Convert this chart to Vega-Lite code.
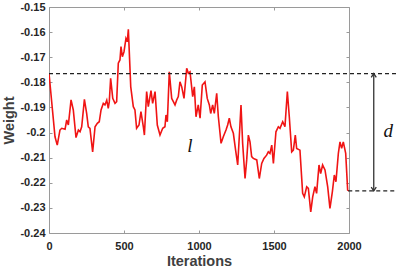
{
  "$schema": "https://vega.github.io/schema/vega-lite/v6.json",
  "autosize": "none",
  "width": 300,
  "height": 226,
  "padding": {"left": 49, "top": 7, "right": 47, "bottom": 37},
  "background": "white",
  "config": {
    "view": {"stroke": null},
    "font": "Liberation Sans",
    "axis": {
      "grid": false,
      "domainColor": "#9a9a9a",
      "tickColor": "#9a9a9a",
      "labelFont": "Liberation Sans",
      "labelFontWeight": "bold",
      "labelFontSize": 11,
      "labelColor": "#262626",
      "titleFont": "Liberation Sans",
      "titleFontWeight": "bold",
      "titleFontSize": 14.5,
      "titleColor": "#404040"
    }
  },
  "datasets": {
    "w": [
      {"it": 0, "w": -0.1764}, {"it": 40, "w": -0.2017}, {"it": 55, "w": -0.205}, {"it": 73, "w": -0.199},
      {"it": 85, "w": -0.1983}, {"it": 107, "w": -0.1987}, {"it": 118, "w": -0.195}, {"it": 129, "w": -0.197},
      {"it": 147, "w": -0.187}, {"it": 162, "w": -0.191}, {"it": 180, "w": -0.202}, {"it": 196, "w": -0.199},
      {"it": 207, "w": -0.1997}, {"it": 218, "w": -0.1977}, {"it": 236, "w": -0.1868}, {"it": 251, "w": -0.1924},
      {"it": 262, "w": -0.1977}, {"it": 273, "w": -0.1983}, {"it": 291, "w": -0.2077}, {"it": 307, "w": -0.1977},
      {"it": 322, "w": -0.1963}, {"it": 335, "w": -0.1957}, {"it": 347, "w": -0.191}, {"it": 362, "w": -0.1884},
      {"it": 373, "w": -0.189}, {"it": 385, "w": -0.1871}, {"it": 395, "w": -0.1904}, {"it": 402, "w": -0.1877},
      {"it": 411, "w": -0.1784}, {"it": 425, "w": -0.1864}, {"it": 440, "w": -0.1884}, {"it": 451, "w": -0.1877},
      {"it": 462, "w": -0.1724}, {"it": 473, "w": -0.1711}, {"it": 480, "w": -0.1658}, {"it": 489, "w": -0.1698},
      {"it": 500, "w": -0.1678}, {"it": 513, "w": -0.1625}, {"it": 522, "w": -0.1638}, {"it": 529, "w": -0.1589},
      {"it": 545, "w": -0.1818}, {"it": 562, "w": -0.1897}, {"it": 573, "w": -0.191}, {"it": 584, "w": -0.1983},
      {"it": 600, "w": -0.197}, {"it": 613, "w": -0.1917}, {"it": 629, "w": -0.1977}, {"it": 636, "w": -0.201},
      {"it": 651, "w": -0.1837}, {"it": 662, "w": -0.1897}, {"it": 680, "w": -0.1833}, {"it": 691, "w": -0.1884},
      {"it": 707, "w": -0.1837}, {"it": 722, "w": -0.197}, {"it": 740, "w": -0.201}, {"it": 758, "w": -0.1983},
      {"it": 773, "w": -0.1977}, {"it": 780, "w": -0.193}, {"it": 789, "w": -0.1957}, {"it": 802, "w": -0.1758},
      {"it": 818, "w": -0.1864}, {"it": 829, "w": -0.1877}, {"it": 840, "w": -0.189}, {"it": 851, "w": -0.1871},
      {"it": 862, "w": -0.1857}, {"it": 873, "w": -0.1798}, {"it": 885, "w": -0.1818}, {"it": 900, "w": -0.1864},
      {"it": 918, "w": -0.1744}, {"it": 929, "w": -0.1764}, {"it": 940, "w": -0.1758}, {"it": 958, "w": -0.1857},
      {"it": 969, "w": -0.1818}, {"it": 980, "w": -0.1937}, {"it": 995, "w": -0.189}, {"it": 1007, "w": -0.1943},
      {"it": 1022, "w": -0.1811}, {"it": 1040, "w": -0.1798}, {"it": 1055, "w": -0.1864}, {"it": 1069, "w": -0.189},
      {"it": 1078, "w": -0.1924}, {"it": 1091, "w": -0.189}, {"it": 1102, "w": -0.1924}, {"it": 1118, "w": -0.1844},
      {"it": 1129, "w": -0.1937}, {"it": 1147, "w": -0.2043}, {"it": 1162, "w": -0.2017}, {"it": 1180, "w": -0.199},
      {"it": 1191, "w": -0.197}, {"it": 1202, "w": -0.1943}, {"it": 1213, "w": -0.1977}, {"it": 1229, "w": -0.2003},
      {"it": 1244, "w": -0.207}, {"it": 1258, "w": -0.2129}, {"it": 1273, "w": -0.197}, {"it": 1280, "w": -0.189},
      {"it": 1291, "w": -0.2043}, {"it": 1307, "w": -0.2183}, {"it": 1318, "w": -0.2109}, {"it": 1329, "w": -0.201},
      {"it": 1340, "w": -0.2037}, {"it": 1351, "w": -0.2096}, {"it": 1362, "w": -0.2103}, {"it": 1385, "w": -0.2109},
      {"it": 1402, "w": -0.2183}, {"it": 1418, "w": -0.2123}, {"it": 1433, "w": -0.2103}, {"it": 1451, "w": -0.209},
      {"it": 1462, "w": -0.2077}, {"it": 1473, "w": -0.2083}, {"it": 1485, "w": -0.205}, {"it": 1496, "w": -0.2123},
      {"it": 1513, "w": -0.1997}, {"it": 1529, "w": -0.1977}, {"it": 1540, "w": -0.1983}, {"it": 1558, "w": -0.1957},
      {"it": 1573, "w": -0.1977}, {"it": 1589, "w": -0.1837}, {"it": 1602, "w": -0.1937}, {"it": 1618, "w": -0.2077},
      {"it": 1629, "w": -0.207}, {"it": 1642, "w": -0.201}, {"it": 1651, "w": -0.2063}, {"it": 1673, "w": -0.207},
      {"it": 1691, "w": -0.2242}, {"it": 1702, "w": -0.2256}, {"it": 1718, "w": -0.2216}, {"it": 1729, "w": -0.2222},
      {"it": 1745, "w": -0.2316}, {"it": 1758, "w": -0.2256}, {"it": 1773, "w": -0.2216}, {"it": 1784, "w": -0.2242},
      {"it": 1800, "w": -0.2129}, {"it": 1811, "w": -0.2163}, {"it": 1824, "w": -0.2129}, {"it": 1840, "w": -0.2149},
      {"it": 1858, "w": -0.2216}, {"it": 1873, "w": -0.2302}, {"it": 1889, "w": -0.2236}, {"it": 1902, "w": -0.2169},
      {"it": 1913, "w": -0.2196}, {"it": 1929, "w": -0.2083}, {"it": 1940, "w": -0.2037}, {"it": 1951, "w": -0.2063},
      {"it": 1962, "w": -0.2037}, {"it": 1978, "w": -0.2083}, {"it": 1991, "w": -0.2229}, {"it": 2000, "w": -0.2232}
    ],
    "rules": [
      {"x": 0, "x2": 2320, "y": -0.1765},
      {"x": 1995, "x2": 2320, "y": -0.2232}
    ],
    "arrow": [
      {"x": 2165, "y": -0.1765, "y2": -0.2232}
    ],
    "heads": [
      {"x": 2165, "y": -0.1765, "dir": "up"},
      {"x": 2165, "y": -0.2232, "dir": "down"}
    ],
    "labels": [
      {"x": 2262, "y": -0.1994, "t": "d"},
      {"x": 940, "y": -0.2052, "t": "l"}
    ]
  },
  "resolve": {"axis": {"x": "independent", "y": "independent"}},
  "layer": [
    {
      "data": {"name": "w"},
      "mark": {"type": "line", "color": "#f01414", "strokeWidth": 1.6, "clip": true},
      "encoding": {
        "x": {
          "field": "it", "type": "quantitative",
          "scale": {"domain": [0, 2000], "nice": false, "zero": false},
          "axis": {"values": [0, 500, 1000, 1500, 2000], "format": "d", "title": "Iterations", "tickSize": -3, "labelPadding": 10, "titlePadding": 3, "labelFlush": false}
        },
        "y": {
          "field": "w", "type": "quantitative",
          "scale": {"domain": [-0.24, -0.15], "nice": false, "zero": false},
          "axis": {"values": [-0.24, -0.23, -0.22, -0.21, -0.2, -0.19, -0.18, -0.17, -0.16, -0.15], "title": "Weight", "tickSize": -3, "labelPadding": 7, "titlePadding": 3, "labelFlush": false,
            "labelExpr": "toString(round(datum.value*100)/100)"}
        }
      }
    },
    {
      "data": {"name": "rules"},
      "mark": {"type": "rule", "color": "#222222", "strokeWidth": 1.2, "strokeDash": [4, 3], "clip": false},
      "encoding": {
        "x": {"field": "x", "type": "quantitative", "axis": {"orient": "top", "values": [0, 500, 1000, 1500, 2000], "labels": false, "title": null, "tickSize": -3}},
        "x2": {"field": "x2"},
        "y": {"field": "y", "type": "quantitative", "axis": {"orient": "right", "values": [-0.24, -0.23, -0.22, -0.21, -0.2, -0.19, -0.18, -0.17, -0.16, -0.15], "labels": false, "title": null, "tickSize": -3}}
      }
    },
    {
      "data": {"name": "arrow"},
      "mark": {"type": "rule", "color": "#333333", "strokeWidth": 1.3, "clip": false},
      "encoding": {
        "x": {"field": "x", "type": "quantitative", "axis": null},
        "y": {"field": "y", "type": "quantitative", "axis": null},
        "y2": {"field": "y2"}
      }
    },
    {
      "data": {"name": "heads"},
      "mark": {"type": "point", "filled": false, "color": "#333333", "strokeWidth": 1.3, "size": 40, "clip": false, "opacity": 1},
      "encoding": {
        "x": {"field": "x", "type": "quantitative", "axis": null},
        "y": {"field": "y", "type": "quantitative", "axis": null},
        "shape": {"field": "dir", "type": "nominal", "scale": {"domain": ["up", "down"], "range": ["M-0.8,1.2L0,0L0.8,1.2", "M-0.8,-1.2L0,0L0.8,-1.2"]}, "legend": null}
      }
    },
    {
      "data": {"name": "labels"},
      "mark": {"type": "text", "font": "Liberation Serif", "fontStyle": "italic", "fontSize": 19, "color": "#111111", "clip": false},
      "encoding": {
        "x": {"field": "x", "type": "quantitative", "axis": null},
        "y": {"field": "y", "type": "quantitative", "axis": null},
        "text": {"field": "t"}
      }
    }
  ]
}
